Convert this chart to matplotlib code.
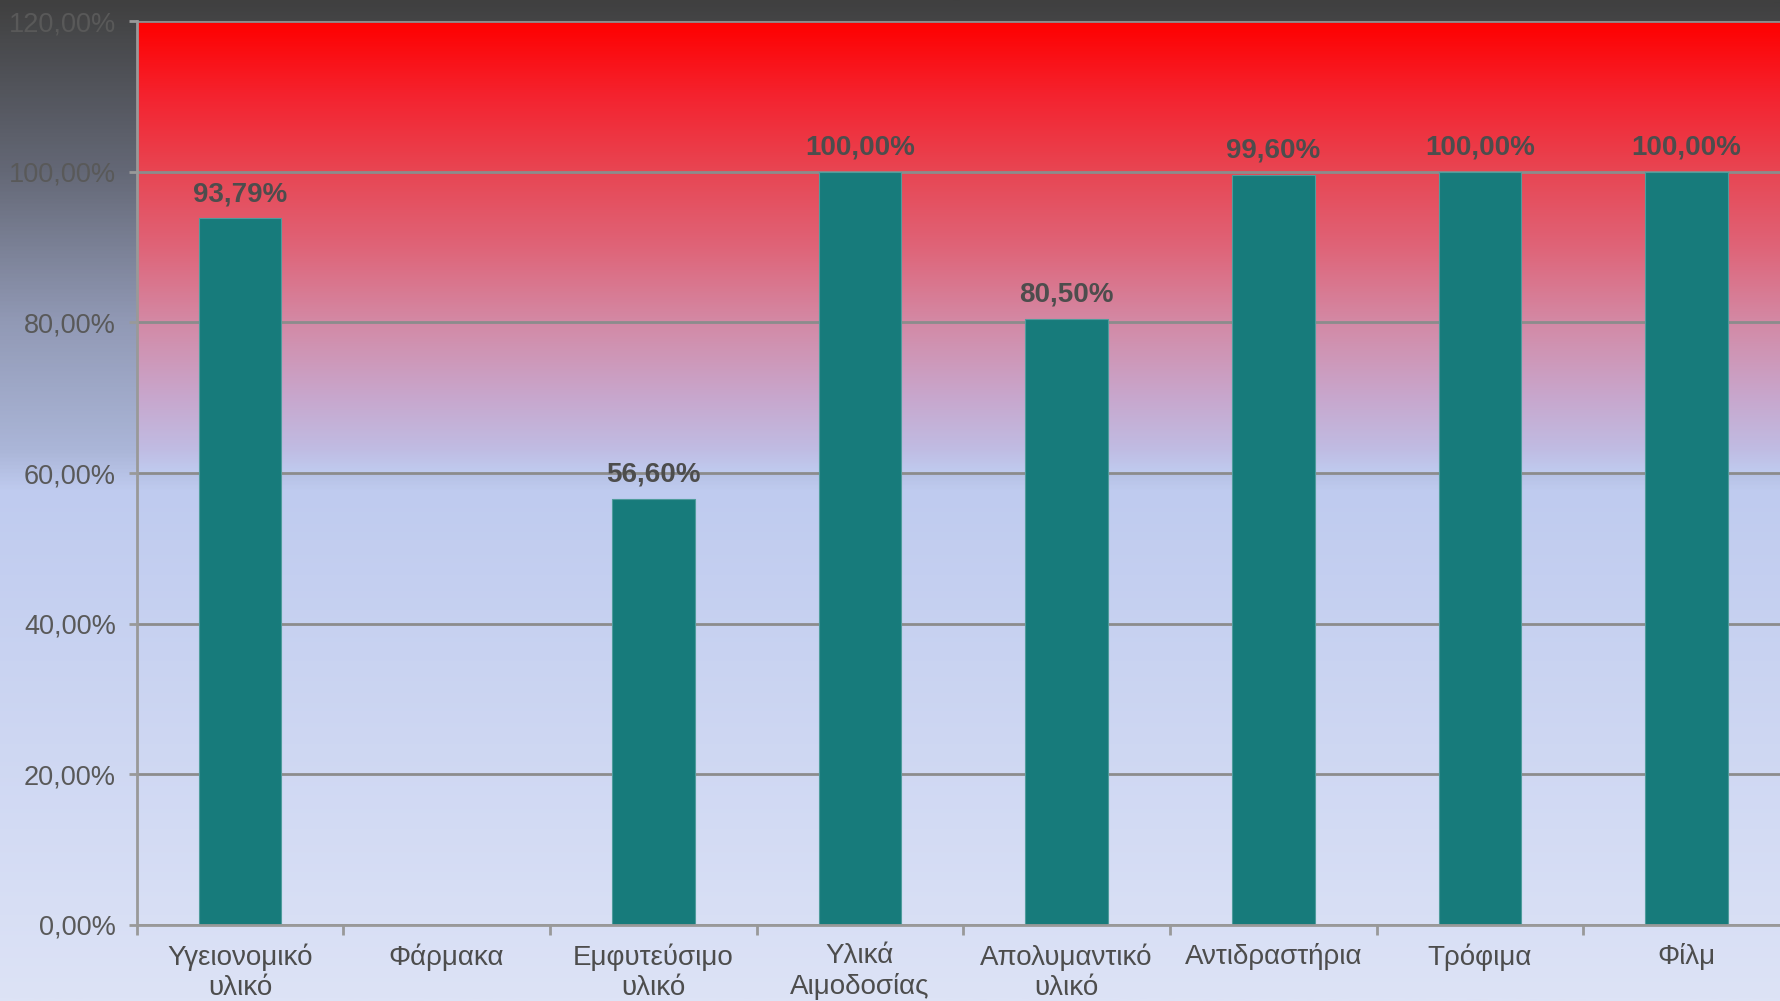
import matplotlib
matplotlib.use('Agg')
import matplotlib.pyplot as plt
from matplotlib.colors import LinearSegmentedColormap
import numpy as np

plt.rcParams['font.family'] = ['Liberation Sans', 'DejaVu Sans']

categories = ['Υγειονομικό\nυλικό', 'Φάρμακα', 'Εμφυτεύσιμο\nυλικό', 'Υλικά\nΑιμοδοσίας',
              'Απολυμαντικό\nυλικό', 'Αντιδραστήρια', 'Τρόφιμα', 'Φίλμ']
values = [93.79, np.nan, 56.60, 100.00, 80.50, 99.60, 100.00, 100.00]
y_ticks = [0, 20, 40, 60, 80, 100, 120]

W, H = 1781, 1001
fig = plt.figure(figsize=(W / 100, H / 100), dpi=100)

# figure background: dark grey at top fading to lavender at bottom
bg = fig.add_axes([0, 0, 1, 1], zorder=-10)
bg_cmap = LinearSegmentedColormap.from_list('bg', [
    (0.0, '#404040'), (0.17, '#646876'), (0.32, '#9199b5'),
    (0.45, '#abb6d8'), (0.49, '#bfcbef'), (1.0, '#dde3f6')])
bg.imshow(np.linspace(0, 1, 512).reshape(-1, 1), cmap=bg_cmap, aspect='auto',
          extent=[0, 1, 0, 1], origin='upper')
bg.set_axis_off()

left, right, top, bottom = 136.6, 1790, 21, 925
ax = fig.add_axes([left / W, 1 - bottom / H, (right - left) / W, (bottom - top) / H])
ax.set_facecolor('none')

x = np.arange(len(categories))
ax.set_xlim(-0.5, len(categories) - 0.5)
ax.set_ylim(0, 120)

# red band in the upper part of the plot area
red_cmap = LinearSegmentedColormap.from_list('red', [
    (0.0, '#ff0000'), (0.17, '#f42430'), (0.33, '#e84552'), (0.5, '#df6478'),
    (0.67, '#d38aa6'), (0.83, '#c8a6cc'), (0.95, '#c0bce3'), (1.0, '#bfcbef')])
ax.imshow(np.linspace(0, 1, 512).reshape(-1, 1), cmap=red_cmap, aspect='auto',
          extent=[-0.5, len(categories) - 0.5, 60, 120], origin='upper', zorder=0)

ax.set_yticks(y_ticks)
ax.yaxis.grid(True, color='#8c8c8c', linewidth=2, zorder=1)
ax.set_axisbelow(True)

bars = ax.bar(x, values, width=0.4, color='#177b7b', edgecolor='#4f9c9c',
              linewidth=0.8, zorder=3)

for xi, v in zip(x, values):
    if np.isnan(v):
        continue
    ax.annotate(f"{v:.2f}".replace('.', ',') + '%', (xi, v), xytext=(0, 8),
                textcoords='offset points', ha='center', va='bottom',
                fontsize=20, fontweight='bold', color='#4d4d4d', zorder=4)

ax.set_yticklabels([f"{t:.2f}".replace('.', ',') + '%' for t in y_ticks])
ax.tick_params(axis='y', length=6, width=2, color='#999999', labelsize=19.5,
               labelcolor='#595959', pad=9)

ax.set_xticks(x)
ax.set_xticklabels(categories, fontsize=20, color='#4d4d4d', linespacing=1.2)
ax.set_xticks(np.arange(len(categories) + 1) - 0.5, minor=True)
ax.tick_params(axis='x', which='major', length=0, pad=13)
ax.tick_params(axis='x', which='minor', length=7, width=2, color='#999999',
               direction='out')

for s in ['top', 'right']:
    ax.spines[s].set_visible(False)
for s in ['left', 'bottom']:
    ax.spines[s].set_color('#999999')
    ax.spines[s].set_linewidth(2)
    ax.spines[s].set_zorder(5)

fig.savefig('out.png', dpi=100)
